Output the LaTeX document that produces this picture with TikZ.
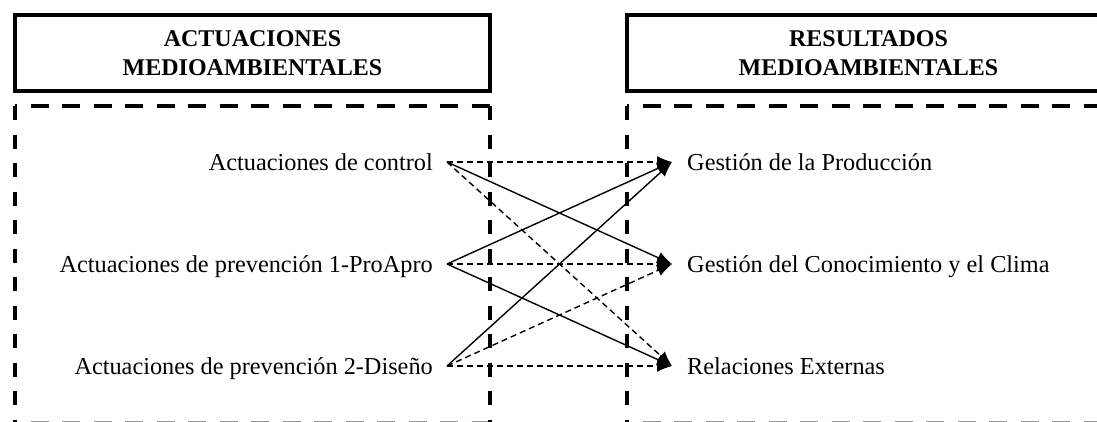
\documentclass[tikz,border=0pt]{standalone}
\usepackage{fontspec}
\setmainfont{Liberation Serif}
\usetikzlibrary{arrows.meta}
\begin{document}
\begin{tikzpicture}[x=1pt,y=-1pt,
  titlebox/.style={draw, line width=4pt, minimum height=76pt, inner sep=0pt,
    align=center, font=\fontsize{24}{29}\selectfont\bfseries},
  hdash/.style={line width=4pt, dash pattern=on 18pt off 13.5pt, dash phase=16pt},
  vdash/.style={line width=4pt, dash pattern=on 14pt off 14.5pt},
  leftlabel/.style={anchor=east, inner xsep=14pt, inner ysep=0pt,
    text height=17pt, text depth=0pt, font=\fontsize{24.3}{29}\selectfont},
  rightlabel/.style={anchor=west, inner xsep=15pt, inner ysep=0pt,
    text height=17pt, text depth=0pt, font=\fontsize{24.3}{29}\selectfont},
  link/.style={line width=1.4pt, -{Latex[length=15pt,width=12pt]}},
  dlink/.style={link, dash pattern=on 6pt off 4pt},
]
\useasboundingbox (0,0) rectangle (1097,421);
\clip (0,0) rectangle (1097,421);

% column headings
\node[titlebox, minimum width=475pt] (hl) at (252.5,53) {ACTUACIONES\\MEDIOAMBIENTALES};
\node[titlebox, minimum width=483pt] (hr) at (868.5,53) {RESULTADOS\\MEDIOAMBIENTALES};

% dashed frames
\draw[hdash] (15,106) -- (490,106);
\draw[hdash, black!40] (15,422.6) -- (490,422.6);
\draw[vdash] (15,106) -- (15,430);
\draw[vdash] (490,106) -- (490,430);
\draw[hdash] (627,106) -- (1110,106);
\draw[hdash, black!40] (627,422.6) -- (1110,422.6);
\draw[vdash] (627,106) -- (627,430);

% actions
\node[leftlabel] (c) at (447,162) {Actuaciones de control};
\node[leftlabel] (a) at (447,264) {Actuaciones de prevención 1-ProApro};
\node[leftlabel] (d) at (447,366) {Actuaciones de prevención 2-Diseño};

% results
\node[rightlabel] (p) at (672,162) {Gestión de la Producción};
\node[rightlabel] (k) at (672,264) {Gestión del Conocimiento y el Clima};
\node[rightlabel] (r) at (672,366) {Relaciones Externas};

% links
\draw[dlink] (c.east) -- (p.west);
\draw[link]  (c.east) -- (k.west);
\draw[dlink] (c.east) -- (r.west);
\draw[link]  (a.east) -- (p.west);
\draw[dlink] (a.east) -- (k.west);
\draw[link]  (a.east) -- (r.west);
\draw[link]  (d.east) -- (p.west);
\draw[dlink] (d.east) -- (k.west);
\draw[dlink] (d.east) -- (r.west);
\end{tikzpicture}
\end{document}
